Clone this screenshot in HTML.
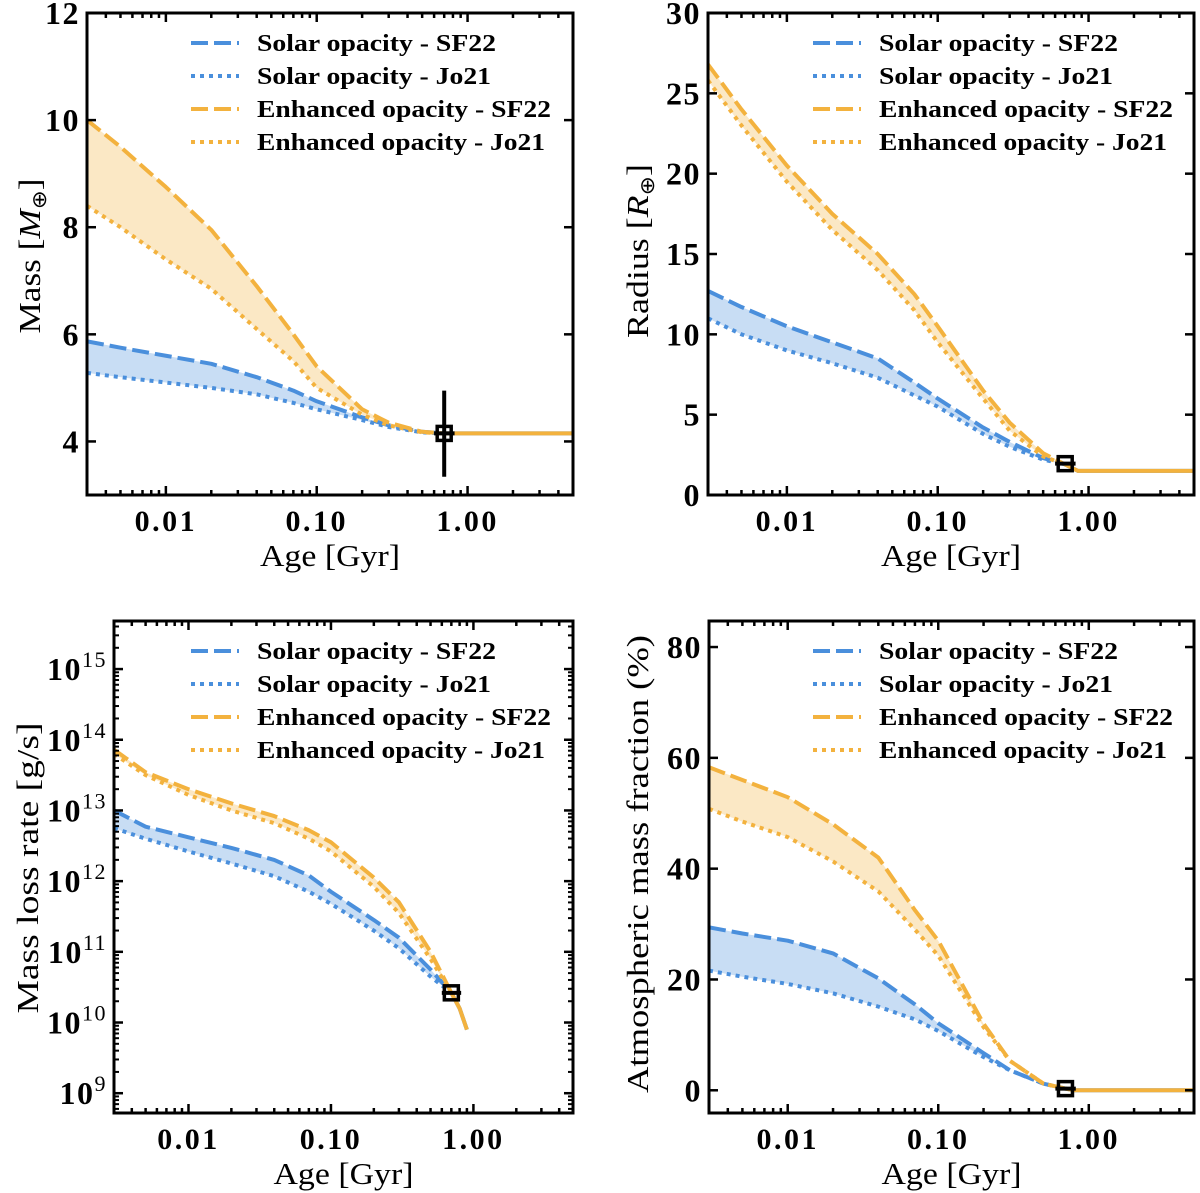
<!DOCTYPE html>
<html><head><meta charset="utf-8">
<style>
html,body{margin:0;padding:0;background:#fff;}
svg{display:block;}
text{font-family:"Liberation Serif",serif;fill:#000;}
</style></head>
<body>
<svg id="fig" width="1200" height="1193" viewBox="0 0 1200 1193" xmlns="http://www.w3.org/2000/svg"></svg>
<script>
// ---------- shared data ----------
const ages = [0.003,0.005,0.01,0.02,0.04,0.07,0.1,0.2,0.3,0.5,0.7];
const seriesNames = ["Solar opacity - SF22","Solar opacity - Jo21","Enhanced opacity - SF22","Enhanced opacity - Jo21"];
const xTickValues = [0.01,0.1,1];
const xTickLabels = ["0.01","0.10","1.00"];

// Mass panel
const massSolarSF22 = [5.87,5.75,5.6,5.45,5.2,4.95,4.75,4.45,4.3,4.18,4.15];
const massSolarJo21 = [5.28,5.2,5.1,5.0,4.88,4.72,4.6,4.4,4.27,4.17,4.15];
const massEnhSF22 = [10.0,9.5,8.75,7.95,6.9,6.0,5.4,4.6,4.35,4.18,4.15];
const massEnhJo21 = [8.4,8.0,7.4,6.85,6.1,5.5,5.0,4.5,4.3,4.17,4.15];
const massTailAges = [0.7,5];
const massTail = [4.15,4.15];
const massObs = [0.7,4.15];
const massObsErr = [3.34,4.95];
const massTicks = [4,6,8,10,12];

// Radius panel
const radSolarSF22 = [12.7,11.7,10.5,9.5,8.5,7.0,6.0,4.2,3.3,2.3,1.9];
const radSolarJo21 = [11.0,10.0,9.0,8.2,7.3,6.2,5.5,3.8,3.0,2.2,1.9];
const radEnhSF22 = [26.8,24.0,20.5,17.5,15.0,12.5,10.5,6.5,4.5,2.6,1.9];
const radEnhJo21 = [25.8,23.0,19.5,16.5,14.0,11.5,9.5,6.0,4.0,2.4,1.9];
const radTailAges = [0.7,0.85,5];
const radTail = [1.9,1.5,1.5];
const radObs = [0.7,1.95];
const radTicks = [0,5,10,15,20,25,30];

// Mass loss rate panel (log10 g/s)
const mlrSolarSF22 = [13.0,12.77,12.62,12.47,12.3,12.08,11.85,11.45,11.2,10.75,10.42];
const mlrSolarJo21 = [12.75,12.6,12.42,12.25,12.07,11.85,11.68,11.3,11.05,10.65,10.42];
const mlrEnhSF22 = [13.86,13.54,13.3,13.1,12.92,12.72,12.55,12.05,11.7,11.0,10.42];
const mlrEnhJo21 = [13.8,13.5,13.22,13.0,12.82,12.6,12.42,11.92,11.55,10.9,10.42];
const mlrTailAges = [0.7,0.8,0.9];
const mlrTail = [10.42,10.2,9.9];
const mlrObs = [0.7,10.42];
const mlrTicks = [9,10,11,12,13,14,15];

// Atmospheric mass fraction panel (%)
const amfSolarSF22 = [29.4,28.3,27.0,24.7,20.2,15.5,12.1,6.7,3.6,1.2,0.3];
const amfSolarJo21 = [21.6,20.5,19.2,17.5,15.1,12.8,10.7,6.0,3.6,1.2,0.3];
const amfEnhSF22 = [58.3,56.0,52.9,48.0,42.0,32.5,27.0,12.0,5.3,1.2,0.3];
const amfEnhJo21 = [50.8,48.5,45.7,41.3,35.9,29.0,24.3,11.4,5.3,1.2,0.3];
const amfTailAges = [0.7,0.8,5];
const amfTail = [0.3,0,0];
const amfObs = [0.7,0.3];
const amfTicks = [0,20,40,60,80];

// ---------- drawing ----------
const NS = "http://www.w3.org/2000/svg";
const svg = document.getElementById('fig');
const BLUE = "#4a8fdc", ORANGE = "#f3b23e";
function mk(tag, attrs, parent){
  const e = document.createElementNS(NS, tag);
  for (const k in attrs) e.setAttribute(k, attrs[k]);
  (parent||svg).appendChild(e);
  return e;
}
let clipId = 0;
function panel(cfg){
  const g = mk('g', {});
  
  
  const L=cfg.box[0], T=cfg.box[1], R=cfg.box[2], B=cfg.box[3];
  const lx0=Math.log10(0.003), lx1=Math.log10(5);
  const X = v => L + (Math.log10(v)-lx0)/(lx1-lx0)*(R-L);
  const Y = v => B - (v-cfg.ylim[0])/(cfg.ylim[1]-cfg.ylim[0])*(B-T);
  const cid = 'clip'+(clipId++);
  const cp = mk('clipPath', {id:cid}, g);
  mk('rect', {x:L, y:T, width:R-L, height:B-T}, cp);
  const plot = mk('g', {'clip-path':'url(#'+cid+')'}, g);
  const pts = arr => arr.map((v,i)=>X(ages[i]).toFixed(2)+','+Y(v).toFixed(2));
  function band(a,b,col,name){
    const p = pts(a).concat(pts(b).reverse());
    const e = mk('polygon', {points:p.join(' '), fill:col, 'fill-opacity':0.3, stroke:'none'}, plot);
    
    
  }
  function line(a,col,dash,name){
    const e = mk('polyline', {points:pts(a).join(' '), fill:'none', stroke:col, 'stroke-width':4, 'stroke-dasharray':dash, 'stroke-linejoin':'round'}, plot);
    
    
  }
  const s = cfg.series;
  band(s[0], s[1], BLUE, 'solar-opacity-band');
  band(s[2], s[3], ORANGE, 'enhanced-opacity-band');
  line(s[0], BLUE, '17,6', 'solar-sf22-line');
  line(s[1], BLUE, '4,5', 'solar-jo21-line');
  line(s[2], ORANGE, '17,6', 'enhanced-sf22-line');
  line(s[3], ORANGE, '4,5', 'enhanced-jo21-line');
  const tp = cfg.tailAges.map((a,i)=>X(a).toFixed(2)+','+Y(cfg.tail[i]).toFixed(2)).join(' ');
  const tb = mk('polyline', {points:tp, fill:'none', stroke:BLUE, 'stroke-width':4}, plot);
  
  
  const to = mk('polyline', {points:tp, fill:'none', stroke:ORANGE, 'stroke-width':4}, plot);
  
  
  const ox = X(cfg.obs[0]), oy = Y(cfg.obs[1]);
  const mg = mk('g', {}, g);
  
  
  mk('line', {x1:X(0.6), x2:X(0.82), y1:oy, y2:oy, stroke:'#000', 'stroke-width':4}, mg);
  if (cfg.obsErr) mk('line', {x1:ox, x2:ox, y1:Y(cfg.obsErr[0]), y2:Y(cfg.obsErr[1]), stroke:'#000', 'stroke-width':4}, mg);
  mk('rect', {x:ox-7, y:oy-7, width:14, height:14, fill:'none', stroke:'#000', 'stroke-width':3.5}, mg);
  const fr = mk('rect', {x:L, y:T, width:R-L, height:B-T, fill:'none', stroke:'#000', 'stroke-width':3}, g);
  
  
  for (let d=-3; d<=0; d++){
    for (let m=1; m<=9; m++){
      const v = m*Math.pow(10,d);
      if (v<0.003 || v>5) continue;
      const len = m===1?9:5;
      const x = X(v);
      mk('line', {x1:x,x2:x,y1:B,y2:B-len,stroke:'#000','stroke-width':2.5}, g);
      mk('line', {x1:x,x2:x,y1:T,y2:T+len,stroke:'#000','stroke-width':2.5}, g);
    }
  }
  xTickValues.forEach((v,i)=>{
    const t = mk('text', {x:X(v), y:B+36, 'text-anchor':'middle', 'font-size':30, 'font-weight':'bold', 'letter-spacing':2.5}, g);
    t.textContent = xTickLabels[i];
    
    
  });
  const xl = mk('text', {x:(L+R)/2, y:B+71, 'text-anchor':'middle', 'font-size':31, textLength:140, lengthAdjust:'spacingAndGlyphs'}, g);
  xl.textContent = 'Age [Gyr]';
  
  
  cfg.yticks.forEach(v=>{
    const y = Y(v);
    mk('line', {x1:L,x2:L+9,y1:y,y2:y,stroke:'#000','stroke-width':2.5}, g);
    mk('line', {x1:R,x2:R-9,y1:y,y2:y,stroke:'#000','stroke-width':2.5}, g);
    const t = mk('text', {x:L-7, y:y+11, 'text-anchor':'end', 'font-size':32, 'font-weight':'bold', 'letter-spacing':1.5}, g);
    if (cfg.log){
      t.textContent = '10';
      const sp = mk('tspan', {dy:-13, 'font-size':22, 'font-weight':'normal'}, t);
      sp.textContent = String(v);
    } else t.textContent = String(v);
    
    
  });
  if (cfg.log){
    for (let d=8; d<=15; d++) for (let m=2; m<=9; m++){
      const v = d+Math.log10(m);
      if (v<cfg.ylim[0]||v>cfg.ylim[1]) continue;
      const y = Y(v);
      mk('line', {x1:L,x2:L+5,y1:y,y2:y,stroke:'#000','stroke-width':2}, g);
      mk('line', {x1:R,x2:R-5,y1:y,y2:y,stroke:'#000','stroke-width':2}, g);
    }
  }
  const yl = mk('text', {transform:`translate(${cfg.ylab[0]},${cfg.ylab[1]}) rotate(-90)`, 'text-anchor':'middle', 'font-size':31, textLength:cfg.ylab[2], lengthAdjust:'spacingAndGlyphs'}, g);
  yl.innerHTML = cfg.ylabel;
  
  
  const lg = mk('g', {}, g);
  
  
  const cols=[BLUE,BLUE,ORANGE,ORANGE], dashes=['17,6','4,5','17,6','4,5'], widths=[239,234,294,288];
  seriesNames.forEach((n,i)=>{
    const y = cfg.legY + i*33;
    const lx = cfg.legX;
    const ent = mk('g', {}, lg);
    
    
    mk('line', {x1:lx, x2:lx+48, y1:y, y2:y, stroke:cols[i], 'stroke-width':4, 'stroke-dasharray':dashes[i]}, ent);
    const t = mk('text', {x:lx+66, y:y+8, 'font-size':24, 'font-weight':'bold', textLength:widths[i], lengthAdjust:'spacingAndGlyphs'}, ent);
    t.textContent = n;
  });
}

panel({name:'mass-panel', box:[87,13,573,495], ylim:[3,12], yticks:massTicks,
  series:[massSolarSF22,massSolarJo21,massEnhSF22,massEnhJo21], tailAges:massTailAges, tail:massTail,
  obs:massObs, obsErr:massObsErr, ylabel:'Mass [<tspan font-style="italic">M</tspan><tspan font-size="20" dy="6">⊕</tspan><tspan dy="-6">]</tspan>', ylab:[40,256,155], legX:191, legY:43});
panel({name:'radius-panel', box:[708,13,1194,495], ylim:[0,30], yticks:radTicks,
  series:[radSolarSF22,radSolarJo21,radEnhSF22,radEnhJo21], tailAges:radTailAges, tail:radTail,
  obs:radObs, ylabel:'Radius [<tspan font-style="italic">R</tspan><tspan font-size="20" dy="6">⊕</tspan><tspan dy="-6">]</tspan>', ylab:[648,251,174], legX:813, legY:43});
panel({name:'mass-loss-rate-panel', box:[114,621,573,1113], ylim:[8.72,15.68], yticks:mlrTicks, log:true,
  series:[mlrSolarSF22,mlrSolarJo21,mlrEnhSF22,mlrEnhJo21], tailAges:mlrTailAges, tail:mlrTail,
  obs:mlrObs, ylabel:'Mass loss rate [g/s]', ylab:[38,868,291], legX:191, legY:651});
panel({name:'atmospheric-mass-fraction-panel', box:[709,621,1194,1113], ylim:[-4.1,84.7], yticks:amfTicks,
  series:[amfSolarSF22,amfSolarJo21,amfEnhSF22,amfEnhJo21], tailAges:amfTailAges, tail:amfTail,
  obs:amfObs, ylabel:'Atmospheric mass fraction (%)', ylab:[648,864,458], legX:813, legY:651});
</script>
</body></html>
